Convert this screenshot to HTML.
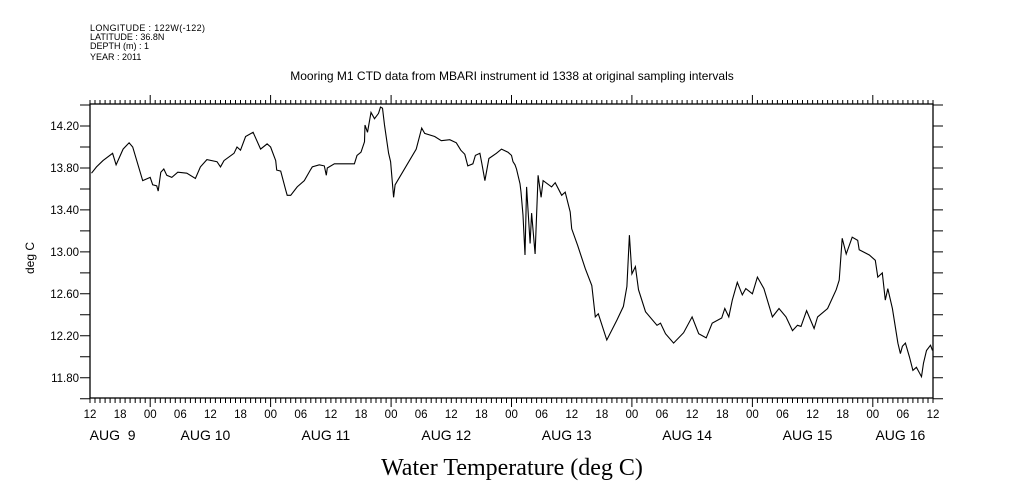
<!DOCTYPE html>
<html><head><meta charset="utf-8"><style>
body{margin:0;background:#fff;width:1009px;height:504px;overflow:hidden}
svg{display:block;font-family:"Liberation Sans",sans-serif}
</style></head><body>
<svg id="chart" width="1009" height="504" viewBox="0 0 1009 504">
<g font-size="9" fill="#000">
<text x="90" y="31" textLength="115">LONGITUDE : 122W(-122)</text>
<text x="90" y="40">LATITUDE : 36.8N</text>
<text x="90" y="49">DEPTH (m) : 1</text>
<text x="90" y="60">YEAR : 2011</text>
</g>
<text x="512" y="80" text-anchor="middle" font-size="12">Mooring M1 CTD data from MBARI instrument id 1338 at original sampling intervals</text>
<text transform="translate(34,258) rotate(-90)" text-anchor="middle" font-size="12">deg C</text>
<text x="512" y="475" text-anchor="middle" font-size="24" font-family="Liberation Serif,serif">Water Temperature (deg C)</text>
<g id="axes"></g>
<g id="plot"></g>
</svg>
<script>
const hours=[0.3,1.3,2.6,4.5,5.2,6.6,7.8,8.5,10.5,12,12.5,13.3,13.6,14.1,14.7,15.3,16.3,17.5,19.3,21,22,23.3,25.3,26,26.7,28.7,29.3,30,31,32.5,34,35.3,36,37,37.2,38,39,39.3,40,41.3,42.7,43.9,44.3,45.7,46.7,47.1,47.3,48.7,52.7,53.2,54,54.7,54.8,55.3,56,56.7,57.5,57.9,58.3,58.7,59.5,59.9,60.5,60.8,65,66.1,66.7,68.7,70,71.7,73,73.9,74.7,75.3,76.3,76.8,77.7,78.1,78.7,79.5,81,82,83.3,84,84.3,84.7,85,85.7,85.9,86.3,86.7,87,87.7,88,88.7,89.3,89.9,90.3,92,92.7,94,94.7,95.7,96,97.2,98.7,100,100.7,101.3,103,105,106.3,107,107.5,108,108.7,109.3,110.7,113,113.7,114.7,116.3,118.3,120,121.3,122.8,124,125.9,126.5,127.3,128,129,130,130.7,132,133,134.3,136,137.3,138.7,140,141,141.7,142.8,144.3,145,147,148.7,149.3,149.9,150.7,151.9,153,153.3,155.3,156.5,157,157.9,158.5,159,159.9,161,161.5,161.9,162.5,163.3,164,164.7,165.7,166.1,166.7,167.5,167.9];
const temps=[13.75,13.81,13.87,13.94,13.83,13.98,14.04,14.00,13.68,13.71,13.64,13.63,13.58,13.76,13.79,13.73,13.71,13.76,13.75,13.70,13.81,13.88,13.86,13.81,13.87,13.94,14.00,13.97,14.10,14.14,13.98,14.03,14.00,13.87,13.78,13.77,13.59,13.54,13.54,13.62,13.68,13.78,13.81,13.83,13.82,13.73,13.80,13.84,13.84,13.92,13.95,14.05,14.21,14.14,14.33,14.27,14.32,14.38,14.37,14.21,13.94,13.86,13.52,13.64,13.98,14.18,14.13,14.10,14.06,14.07,14.04,13.97,13.93,13.82,13.84,13.92,13.94,13.84,13.68,13.89,13.94,13.98,13.95,13.92,13.86,13.83,13.79,13.65,13.57,13.35,12.97,13.62,13.08,13.37,12.98,13.73,13.52,13.68,13.62,13.66,13.54,13.57,13.38,13.22,13.06,12.84,12.68,12.38,12.41,12.16,12.35,12.48,12.67,13.16,12.79,12.86,12.64,12.43,12.30,12.32,12.22,12.13,12.23,12.38,12.22,12.18,12.32,12.37,12.46,12.38,12.54,12.71,12.59,12.65,12.60,12.76,12.65,12.38,12.46,12.38,12.25,12.30,12.29,12.44,12.27,12.38,12.46,12.64,12.73,13.13,12.98,13.14,13.11,13.02,12.97,12.92,12.76,12.80,12.54,12.65,12.46,12.13,12.03,12.10,12.13,12.00,11.87,11.90,11.81,11.94,12.06,12.11,12.06];
const yTicks=[11.80,12.20,12.60,13.00,13.40,13.80,14.20];
const hourLabels=["12","18","00","06","12","18","00","06","12","18","00","06","12","18","00","06","12","18","00","06","12","18","00","06","12","18","00","06","12"];
const dayLabels=["AUG  9","AUG 10","AUG 11","AUG 12","AUG 13","AUG 14","AUG 15","AUG 16"];
const dayCenters=[4.5,23,47,71,95,119,143,161.5];

const L=90,R=933,T=104,B=398,H0=168,YMIN=11.607,YMAX=14.41;
const sx=h=>L+h*(R-L)/H0;
const sy=v=>T+(YMAX-v)*(B-T)/(YMAX-YMIN);
const NS="http://www.w3.org/2000/svg";
const axes=document.getElementById('axes'),plot=document.getElementById('plot');
function mk(tag,attrs,parent){const e=document.createElementNS(NS,tag);for(const k in attrs)e.setAttribute(k,attrs[k]);parent.appendChild(e);return e;}

const frame=mk('rect',{x:L,y:T,width:R-L,height:B-T,fill:'none',stroke:'#000','stroke-width':1.3},axes);



let d='';
for(let h=0;h<=H0;h++){
  const x=sx(h).toFixed(1);const major=((h+12)%24===0);
  d+=`M${x} ${T}V${T-(major?9:4)}M${x} ${B}V${B+(major?9:5)}`;
}
for(let v=11.6;v<=14.41;v+=0.2){
  const y=sy(v).toFixed(1);
  d+=`M${L} ${y}H${L-10}M${R} ${y}H${R+10}`;
}
const tp=mk('path',{d:d,stroke:'#000','stroke-width':1,fill:'none'},axes);



yTicks.forEach(v=>{
  const t=mk('text',{x:79,y:sy(v)+4,'text-anchor':'end','font-size':11.5},axes);
  t.textContent=v.toFixed(2);
  
  
});
hourLabels.forEach((s,i)=>{
  const t=mk('text',{x:sx(i*6),y:418,'text-anchor':'middle','font-size':11.5},axes);
  t.textContent=s;
  
  
});
dayLabels.forEach((s,i)=>{
  const t=mk('text',{x:sx(dayCenters[i]),y:440,'text-anchor':'middle','font-size':14},axes);
  t.style.whiteSpace='pre';
  t.textContent=s;
  
  
});

const pts=hours.map((h,i)=>sx(h).toFixed(1)+','+sy(temps[i]).toFixed(1)).join(' ');
const line=mk('polyline',{points:pts,fill:'none',stroke:'#000','stroke-width':1.1},plot);


</script>
</body></html>
